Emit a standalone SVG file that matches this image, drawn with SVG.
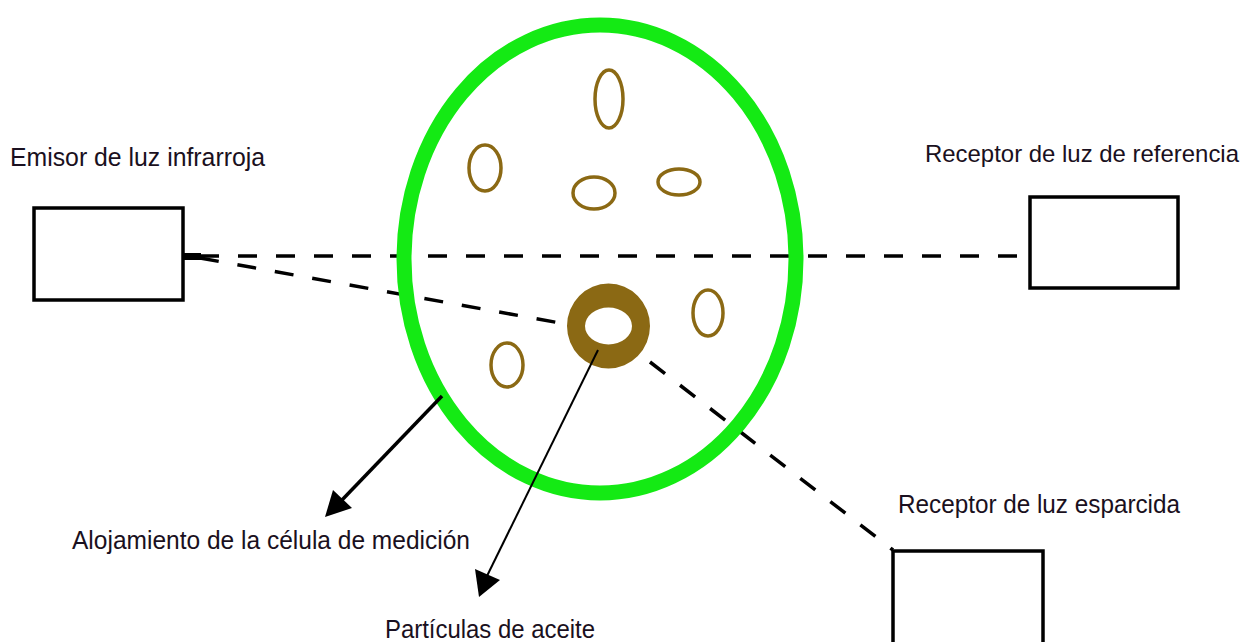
<svg xmlns="http://www.w3.org/2000/svg" width="1250" height="642" viewBox="0 0 1250 642">
<defs>
<style>
.box{fill:#fff;stroke:#000;stroke-width:3.5}
.dash{fill:none;stroke:#000;stroke-width:3.5;stroke-dasharray:19 19}
.part{fill:none;stroke:#8b6914;stroke-width:3.5}
.lbl{font-family:"Liberation Sans",Arial,sans-serif;font-size:26px;fill:#1a1020}
.arr{stroke:#000;fill:none}
</style>
</defs>
<rect width="1250" height="642" fill="#fff"/>
<g id="connectors">
<line class="dash" x1="200" y1="256" x2="1030" y2="256"/>
<line class="dash" x1="200" y1="258" x2="560" y2="323"/>
<line class="dash" x1="650" y1="362" x2="893" y2="550"/>
</g>
<g id="cell">
<ellipse cx="600" cy="259" rx="196" ry="234" fill="none" stroke="#14ea14" stroke-width="15"/>
</g>
<g id="particles">
<ellipse class="part" cx="609" cy="99" rx="14" ry="29"/>
<ellipse class="part" cx="485" cy="168" rx="16" ry="23"/>
<ellipse class="part" cx="594" cy="193" rx="21" ry="16"/>
<ellipse class="part" cx="679" cy="182" rx="21" ry="13"/>
<ellipse class="part" cx="708" cy="313" rx="15" ry="23"/>
<ellipse class="part" cx="507" cy="365" rx="16" ry="22"/>
<path d="M567,326 a41,42 0 1,0 83,0 a41,42 0 1,0 -83,0 Z M585,326 a23.5,18.5 0 1,1 47,0 a23.5,18.5 0 1,1 -47,0 Z" fill="#8b6914" fill-rule="evenodd"/>
</g>
<g id="emisor">
<rect class="box" x="34" y="208" width="149" height="92"/>
<rect x="183" y="253" width="18" height="7" fill="#000"/>
<text class="lbl" x="10" y="166" textLength="255" lengthAdjust="spacingAndGlyphs">Emisor de luz infrarroja</text>
</g>
<g id="receptor-referencia">
<rect class="box" x="1030" y="197" width="148" height="91"/>
<text class="lbl" x="925" y="162" font-size="24" style="font-size:24px" textLength="314" lengthAdjust="spacingAndGlyphs">Receptor de luz de referencia</text>
</g>
<g id="receptor-esparcida">
<rect class="box" x="893" y="551" width="150" height="100"/>
<text class="lbl" x="898" y="513" textLength="282" lengthAdjust="spacingAndGlyphs">Receptor de luz esparcida</text>
</g>
<g id="arrows">
<line class="arr" x1="442" y1="396" x2="342" y2="500" stroke-width="3.5"/>
<path d="M325,517 L333,490 L352,508 Z" fill="#000"/>
<line class="arr" x1="598" y1="350" x2="486" y2="578" stroke-width="2"/>
<path d="M479,597 L475,569 L500,580 Z" fill="#000"/>
</g>
<g id="labels">
<text class="lbl" x="72" y="549" textLength="398" lengthAdjust="spacingAndGlyphs">Alojamiento de la célula de medición</text>
<text class="lbl" x="385" y="638" textLength="210" lengthAdjust="spacingAndGlyphs">Partículas de aceite</text>
</g>
</svg>
